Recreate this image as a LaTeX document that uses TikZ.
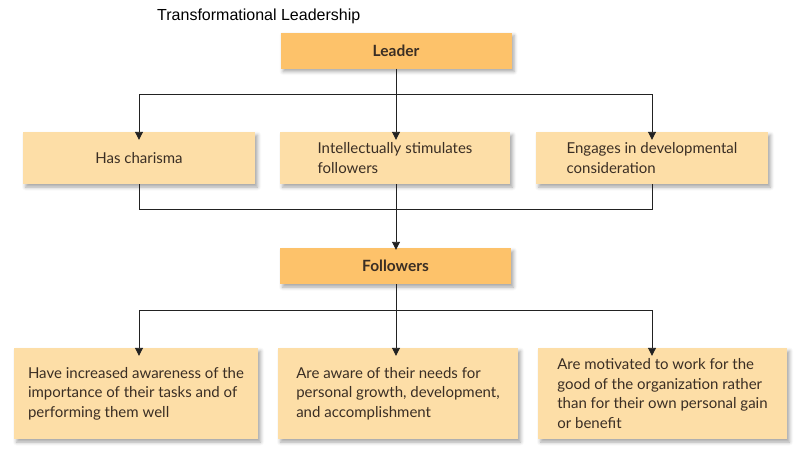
\documentclass[tikz,border=0pt]{standalone}
\usepackage{fontspec}
\setmainfont{Lato}
\newfontfamily\titlefont{Liberation Sans}
\usetikzlibrary{arrows.meta,shadows.blur}

\definecolor{headfill}{HTML}{FDC26A}
\definecolor{boxfill}{HTML}{FDDEA7}
\definecolor{boxtext}{HTML}{3A2E24}
\definecolor{linecol}{HTML}{222222}

\tikzset{
  softshadow/.style={blur shadow={shadow xshift=2.5pt, shadow yshift=-3pt,
      shadow blur radius=3.5pt, shadow opacity=35}},
  headbox/.style={fill=headfill, softshadow, minimum width=231pt,
      minimum height=36pt, inner sep=0pt, text=boxtext,
      font=\fontsize{15.5}{18}\selectfont\bfseries},
  itembox/.style 2 args={fill=boxfill, softshadow, text=boxtext, align=left,
      minimum width=#1, minimum height=#2, inner sep=0pt,
      font=\fontsize{15}{19.5}\selectfont},
  link/.style={draw=linecol, line width=0.9pt},
  arrowlink/.style={link, -{Triangle[length=8pt,width=8pt]}}
}

\begin{document}
\begin{tikzpicture}[x=1pt,y=-1pt]
  \useasboundingbox (0,0) rectangle (809,461);

  % title
  \node[anchor=base west, inner sep=0pt, font=\titlefont\fontsize{16}{18}\selectfont]
    (title) at (157,20) {Transformational Leadership};

  % top level
  \node[headbox] (leader) at (396,50.5) {Leader};

  % leader behaviours
  \node[itembox={232pt}{52pt}] (charisma) at (139,158) {Has charisma};
  \node[itembox={230pt}{52pt}] (stimulates) at (395,158)
    {Intellectually stimulates\\followers};
  \node[itembox={232pt}{52pt}] (engages) at (652,158)
    {Engages in developmental\\consideration};

  % followers
  \node[headbox] (followers) at (395.5,266) {Followers};

  % follower outcomes
  \node[itembox={244pt}{91pt}] (awareness) at (136,393.5)
    {Have increased awareness of the\\importance of their tasks and of\\performing them well};
  \node[itembox={240pt}{91pt}] (needs) at (398,393.5)
    {Are aware of their needs for\\personal growth, development,\\and accomplishment};
  \node[itembox={249pt}{91pt}] (motivated) at (662.5,393.5)
    {Are motivated to work for the\\good of the organization rather\\than for their own personal gain\\or benefit};

  % branch points
  \coordinate (split1) at (396,94);
  \coordinate (join1) at (396,209);
  \coordinate (split2) at (396,310);

  % leader to behaviours
  \draw[link] (leader.south) -- (split1);
  \draw[arrowlink] (split1) -| ([yshift=-8pt]charisma.north);
  \draw[arrowlink] (split1) -- ([yshift=-8pt]split1 |- stimulates.north);
  \draw[arrowlink] (split1) -| ([yshift=-8pt]engages.north);

  % behaviours to followers
  \draw[link] (charisma.south) |- (join1);
  \draw[link] (engages.south) |- (join1);
  \draw[arrowlink] (join1 |- stimulates.south) -- ([yshift=-2pt]join1 |- followers.north);

  % followers to outcomes
  \draw[link] (followers.south -| split2) -- (split2);
  \draw[arrowlink] (split2) -| ([xshift=3pt,yshift=-8pt]awareness.north);
  \draw[arrowlink] (split2) -- ([yshift=-8pt]split2 |- needs.north);
  \draw[arrowlink] (split2) -| ([xshift=-10.5pt,yshift=-8pt]motivated.north);
\end{tikzpicture}
\end{document}
